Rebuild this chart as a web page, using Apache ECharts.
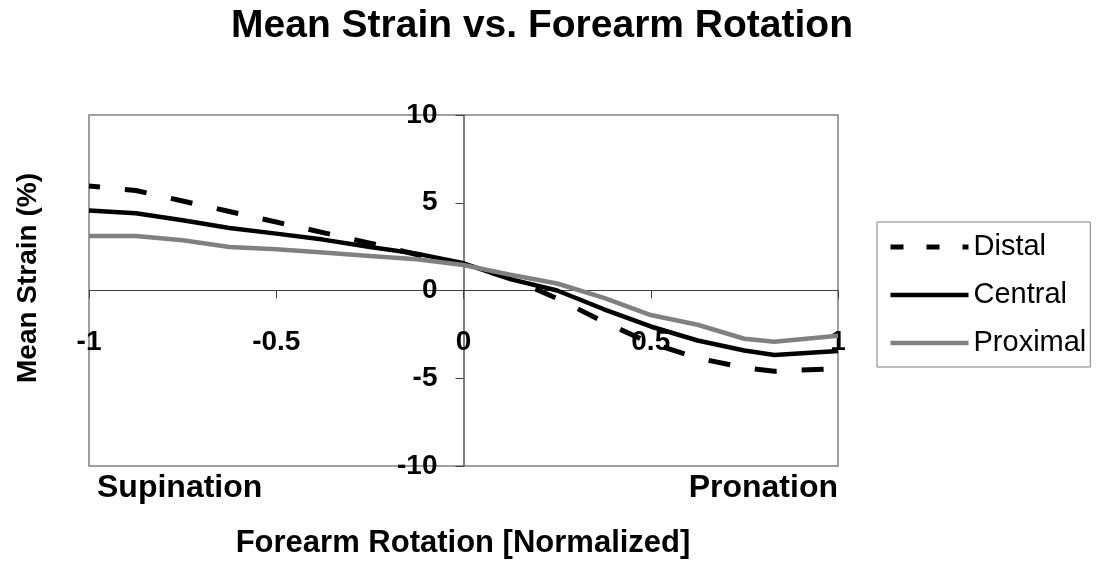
<!DOCTYPE html>
<html>
<head>
<meta charset="utf-8">
<script src="https://cdn.jsdelivr.net/npm/echarts@6/dist/echarts.min.js"></script>
<style>html,body{margin:0;padding:0;background:#fff}#c{width:1101px;height:565px}</style>
</head>
<body>
<div id="c"></div>
<script>
const xValues = [-1, -0.875, -0.75, -0.625, -0.5, -0.375, -0.25, -0.125, 0, 0.125, 0.25, 0.375, 0.5, 0.625, 0.75, 0.83, 1];
const distal   = [5.95, 5.7, 5.1, 4.5, 3.9, 3.3, 2.7, 2.05, 1.5, 0.7, -0.45, -1.8, -3.0, -3.85, -4.4, -4.6, -4.45];
const central  = [4.56, 4.4, 4.0, 3.56, 3.24, 2.9, 2.48, 2.1, 1.55, 0.65, 0.0, -1.07, -2.05, -2.85, -3.42, -3.67, -3.45];
const proximal = [3.1, 3.1, 2.86, 2.48, 2.35, 2.16, 1.97, 1.78, 1.45, 0.9, 0.4, -0.42, -1.4, -1.95, -2.75, -2.92, -2.58];
const seriesNames = ['Distal', 'Central', 'Proximal'];
const xTickLabels = ['-1', '-0.5', '0', '0.5', '1'];
const titleText = 'Mean Strain vs. Forearm Rotation';
const xTitle = 'Forearm Rotation [Normalized]';
const yTitle = 'Mean Strain (%)';

const pair = arr => xValues.map((x, i) => [x, arr[i]]);
const font = 'Liberation Sans, Arial, sans-serif';
const gridLeft = 89, gridRight = 263, gridTop = 115, gridBottom = 99, H = 565;

const chart = echarts.init(document.getElementById('c'), null, {renderer: 'canvas'});
const noSym = {color: 'rgba(0,0,0,0)', borderColor: 'rgba(0,0,0,0)', borderWidth: 0, opacity: 0};
chart.setOption({
  animation: false,
  backgroundColor: '#fff',
  grid: {left: gridLeft, right: gridRight, top: gridTop, bottom: gridBottom, show: true, borderColor: '#808080', borderWidth: 1.5, backgroundColor: 'transparent'},
  xAxis: {
    type: 'value', min: -1, max: 1, interval: 0.5, position: 'bottom',
    axisLine: {onZero: false, lineStyle: {color: '#404040', width: 1}},
    axisTick: {show: true, length: 8, inside: false, lineStyle: {color: '#404040'}},
    splitLine: {show: false},
    axisLabel: {
      margin: 38, color: '#000', fontFamily: font, fontWeight: 'bold', fontSize: 28,
      formatter: v => { const i = Math.round((v + 1) / 0.5); return xTickLabels[i] !== undefined ? xTickLabels[i] : ''; },
      showMinLabel: true, showMaxLabel: true, hideOverlap: false
    }
  },
  yAxis: {
    type: 'value', min: -10, max: 10, interval: 5, position: 'left',
    axisLine: {show: true, onZero: false, lineStyle: {color: '#555', width: 1.5}},
    axisTick: {show: true, length: 8, lineStyle: {color: '#404040'}},
    splitLine: {show: false},
    axisLabel: {margin: 26, color: '#000', fontFamily: font, fontWeight: 'bold', fontSize: 28, hideOverlap: false}
  },
  legend: {
    orient: 'vertical', left: 877, top: 222,
    backgroundColor: '#fff', borderColor: '#808080', borderWidth: 1,
    padding: [10, 4, 9, 11], itemWidth: 78, itemHeight: 14, itemGap: 18,
    textStyle: {color: '#000', fontFamily: font, fontSize: 29, lineHeight: 30},
    itemStyle: noSym,
    lineStyle: {width: 4.5},
    data: [
      {name: 'Distal', lineStyle: {type: [13, 23], dashOffset: 0, width: 5}, itemStyle: noSym},
      {name: 'Central', lineStyle: {width: 4.5}, itemStyle: noSym},
      {name: 'Proximal', lineStyle: {width: 4.5}, itemStyle: noSym}
    ]
  },
  graphic: [
    {type: 'text', x: 542, y: 26, style: {text: titleText, fill: '#000', font: 'bold 39px ' + font, textAlign: 'center', textVerticalAlign: 'middle'}},
    {type: 'text', x: 463, y: 543, style: {text: xTitle, fill: '#000', font: 'bold 31px ' + font, textAlign: 'center', textVerticalAlign: 'middle'}},
    {type: 'text', x: 28, y: 278, rotation: Math.PI / 2, style: {text: yTitle, fill: '#000', font: 'bold 28px ' + font, textAlign: 'center', textVerticalAlign: 'middle'}},
    {type: 'text', x: 97, y: 488, style: {text: 'Supination', fill: '#000', font: 'bold 32px ' + font, textAlign: 'left', textVerticalAlign: 'middle'}},
    {type: 'text', x: 838, y: 488, style: {text: 'Pronation', fill: '#000', font: 'bold 32px ' + font, textAlign: 'right', textVerticalAlign: 'middle'}}
  ],
  series: [
    {name: seriesNames[0], type: 'line', data: pair(distal), symbol: 'none', lineStyle: {color: '#000', width: 5, type: [22, 25], dashOffset: 11, cap: 'butt'}, itemStyle: {color: '#000'}},
    {name: seriesNames[1], type: 'line', data: pair(central), symbol: 'none', lineStyle: {color: '#000', width: 4.5}, itemStyle: {color: '#000'}},
    {name: seriesNames[2], type: 'line', data: pair(proximal), symbol: 'none', lineStyle: {color: '#808080', width: 4.5}, itemStyle: {color: '#808080'}}
  ]
});
// place the axes on the zero lines, using the library's own scales
const zero = chart.convertToPixel({gridIndex: 0}, [0, 0]);
chart.setOption({
  xAxis: {offset: -((H - gridBottom) - zero[1])},
  yAxis: {offset: -(zero[0] - gridLeft)}
});
</script>
</body>
</html>
